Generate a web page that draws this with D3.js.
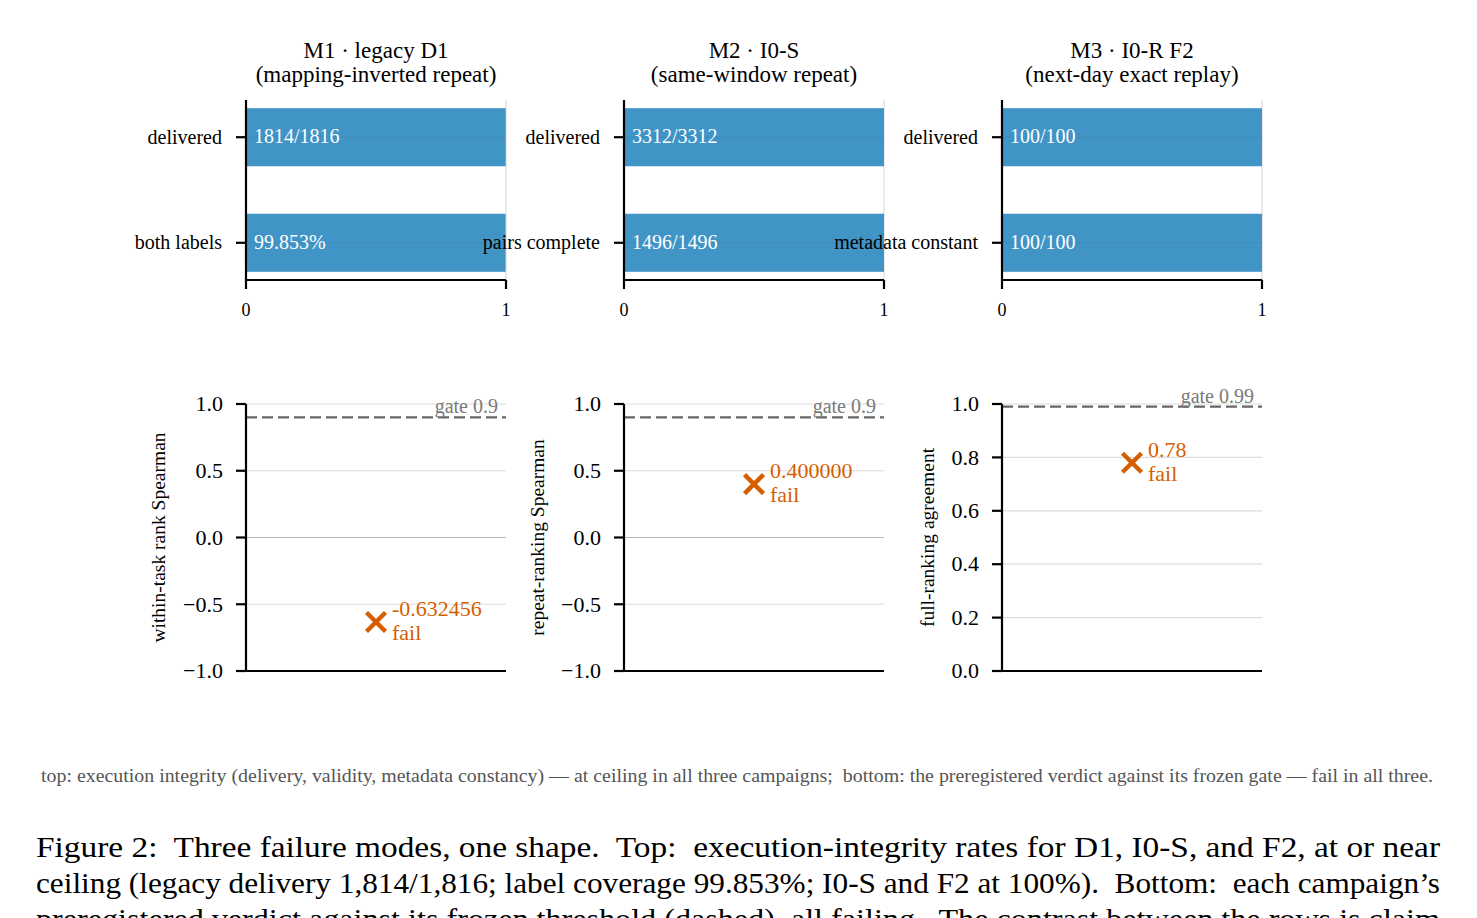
<!DOCTYPE html>
<html lang="en">
<head>
  <meta charset="utf-8">
  <title>Three failure modes</title>
  <style>
    body {
      margin:0;
      background-color:#fff;
    }
    svg {
      display:block;
      font-family:"Liberation Serif", "DejaVu Serif", serif;
    }
    .grid line {
      stroke:#dcdcdc;
      stroke-width:1.2;
    }
    .spine {
      stroke:#000;
      stroke-width:2.2;
    }
    .tick line {
      stroke:#000;
      stroke-width:2.2;
    }
  </style>
</head>
<body>
  <div id="page"></div>
  <script src="https://cdn.jsdelivr.net/npm/d3@7/dist/d3.min.js"></script>
  <script>
    var campaigns = ["M1 \u00b7 legacy D1", "M2 \u00b7 I0-S", "M3 \u00b7 I0-R F2"];
    var subtitles = ["(mapping-inverted repeat)", "(same-window repeat)", "(next-day exact replay)"];

    // top row: execution integrity
    var integrityCats = [["delivered", "both labels"], ["delivered", "pairs complete"], ["delivered", "metadata constant"]];
    var integrityVals = [[1814 / 1816, 0.99853], [1, 1], [1, 1]];
    var integrityText = [["1814/1816", "99.853%"], ["3312/3312", "1496/1496"], ["100/100", "100/100"]];
    var integrityTicks = [0, 1];

    // bottom row: verdict vs gate
    var verdictVals = [-0.632456, 0.4, 0.78];
    var verdictText = ["-0.632456", "0.400000", "0.78"];
    var gates = [0.9, 0.9, 0.99];
    var verdictDomains = [[-1, 1], [-1, 1], [0, 1]];
    var verdictTicks = [[-1, -0.5, 0, 0.5, 1], [-1, -0.5, 0, 0.5, 1], [0, 0.2, 0.4, 0.6, 0.8, 1]];
    var verdictYLabels = ["within-task rank Spearman", "repeat-ranking Spearman", "full-ranking agreement"];

    var footnote = "top: execution integrity (delivery, validity, metadata constancy) \u2014 at ceiling in all three campaigns;  bottom: the preregistered verdict against its frozen gate \u2014 fail in all three.";
    var caption = [
      "Figure 2:  Three failure modes, one shape.  Top:  execution-integrity rates for D1, I0-S, and F2, at or near",
      "ceiling (legacy delivery 1,814/1,816; label coverage 99.853%; I0-S and F2 at 100%).  Bottom:  each campaign\u2019s",
      "preregistered verdict against its frozen threshold (dashed), all failing.  The contrast between the rows is claim"
    ];

    var W = 1477, H = 918;
    var panelX = [246, 624, 1002];
    var pw = 260;
    var barColor = "#4195c6";
    var failColor = "#d55e00";
    var fmt = d3.format(".1f");
    var minus = function(v){ return fmt(v).replace("-", "\u2212"); };

    var svg = d3.select("div#page").append("svg")
        .attr("width", W)
        .attr("height", H);

    svg.append("rect").attr("width", W).attr("height", H).attr("fill", "#fff");

    // ---- top row
    var topY0 = 100, topY1 = 280;
    campaigns.forEach(function(name, p){
      var g = svg.append("g").attr("transform", "translate(" + panelX[p] + ",0)");

      g.append("text")
          .attr("x", pw / 2).attr("y", 58)
          .attr("text-anchor", "middle")
          .attr("font-size", 23)
          .text(name);
      g.append("text")
          .attr("x", pw / 2).attr("y", 82)
          .attr("text-anchor", "middle")
          .attr("font-size", 23)
          .text(subtitles[p]);

      var x = d3.scaleLinear().domain([0, 1]).range([0, pw]);
      // bars at 0 and 1, height 0.55, matplotlib-style 5% margins
      var y = d3.scaleLinear().domain([-0.3525, 1.3525]).range([topY0, topY1]);

      var rows = integrityCats[p].map(function(c, i){
        return {cat: c, pos: i, val: integrityVals[p][i], txt: integrityText[p][i]};
      });

      g.append("g").attr("class", "grid")
        .selectAll("line").data(integrityTicks).enter().append("line")
          .attr("x1", x).attr("x2", x)
          .attr("y1", topY0).attr("y2", topY1);

      g.selectAll("rect.bar").data(rows).enter().append("rect")
          .attr("class", "bar")
          .attr("x", x(0))
          .attr("y", function(d){ return y(d.pos - 0.275); })
          .attr("width", function(d){ return x(d.val) - x(0); })
          .attr("height", y(0.275) - y(-0.275))
          .attr("fill", barColor);

      // faint row grid through the bars
      g.selectAll("line.rowgrid").data(rows).enter().append("line")
          .attr("class", "rowgrid")
          .attr("x1", x(0)).attr("x2", x(1))
          .attr("y1", function(d){ return y(d.pos); })
          .attr("y2", function(d){ return y(d.pos); })
          .attr("stroke", "#000").attr("stroke-opacity", 0.05).attr("stroke-width", 1.2);

      g.selectAll("text.val").data(rows).enter().append("text")
          .attr("class", "val")
          .attr("x", x(0) + 8)
          .attr("y", function(d){ return y(d.pos) + 6; })
          .attr("fill", "#fff")
          .attr("font-size", 20)
          .text(function(d){ return d.txt; });

      // left axis with category labels
      g.append("line").attr("class", "spine")
          .attr("x1", 0).attr("x2", 0).attr("y1", topY0).attr("y2", topY1);
      var yl = g.selectAll("g.ycat").data(rows).enter().append("g")
          .attr("class", "tick ycat")
          .attr("transform", function(d){ return "translate(0," + y(d.pos) + ")"; });
      yl.append("line").attr("x1", -10).attr("x2", 0);
      yl.append("text")
          .attr("x", -24).attr("dy", "0.32em")
          .attr("text-anchor", "end")
          .attr("font-size", 20)
          .text(function(d){ return d.cat; });

      // bottom axis
      g.append("line").attr("class", "spine")
          .attr("x1", 0).attr("x2", pw).attr("y1", topY1).attr("y2", topY1);
      var xt = g.selectAll("g.xt").data(integrityTicks).enter().append("g")
          .attr("class", "tick xt")
          .attr("transform", function(d){ return "translate(" + x(d) + "," + topY1 + ")"; });
      xt.append("line").attr("y1", 0).attr("y2", 9);
      xt.append("text")
          .attr("y", 36)
          .attr("text-anchor", "middle")
          .attr("font-size", 18)
          .text(function(d){ return d; });
    });

    // ---- bottom row
    var botY0 = 404, botY1 = 671;
    var ylabX = [-81, -80, -68];
    campaigns.forEach(function(name, p){
      var g = svg.append("g").attr("transform", "translate(" + panelX[p] + ",0)");
      var x = d3.scaleLinear().domain([-1, 1]).range([0, pw]);
      var y = d3.scaleLinear().domain(verdictDomains[p]).range([botY1, botY0]);
      var ticks = verdictTicks[p];

      g.append("g").attr("class", "grid")
        .selectAll("line").data(ticks).enter().append("line")
          .attr("x1", 0).attr("x2", pw)
          .attr("y1", y).attr("y2", y)
          .style("stroke", function(d){ return d === 0 ? "#b8b8b8" : null; });

      // gate
      g.append("line")
          .attr("x1", 0).attr("x2", pw)
          .attr("y1", y(gates[p])).attr("y2", y(gates[p]))
          .attr("stroke", "#666").attr("stroke-width", 2.4)
          .attr("stroke-dasharray", "11,5");
      g.append("text")
          .attr("x", pw - 8).attr("y", y(gates[p]) - 4)
          .attr("text-anchor", "end")
          .attr("fill", "#7a7a7a")
          .attr("font-size", 20)
          .text("gate " + gates[p]);

      // verdict marker
      var cx = x(0), cy = y(verdictVals[p]), r = 9.5;
      var m = g.append("g").attr("transform", "translate(" + cx + "," + cy + ")")
          .attr("stroke", failColor).attr("stroke-width", 4.4);
      m.append("line").attr("x1", -r).attr("y1", -r).attr("x2", r).attr("y2", r);
      m.append("line").attr("x1", -r).attr("y1", r).attr("x2", r).attr("y2", -r);

      g.append("text")
          .attr("x", cx + 16).attr("y", cy - 6)
          .attr("fill", failColor).attr("font-size", 22)
          .text(verdictText[p]);
      g.append("text")
          .attr("x", cx + 16).attr("y", cy + 18)
          .attr("fill", failColor).attr("font-size", 22)
          .text("fail");

      // axes
      g.append("line").attr("class", "spine")
          .attr("x1", 0).attr("x2", 0).attr("y1", botY0).attr("y2", botY1);
      g.append("line").attr("class", "spine")
          .attr("x1", 0).attr("x2", pw).attr("y1", botY1).attr("y2", botY1);
      var yt = g.selectAll("g.yt").data(ticks).enter().append("g")
          .attr("class", "tick yt")
          .attr("transform", function(d){ return "translate(0," + y(d) + ")"; });
      yt.append("line").attr("x1", -10).attr("x2", 0);
      yt.append("text")
          .attr("x", -23).attr("dy", "0.33em")
          .attr("text-anchor", "end")
          .attr("font-size", 22)
          .text(minus);

      g.append("text")
          .attr("transform", "translate(" + ylabX[p] + "," + ((botY0 + botY1) / 2) + ") rotate(-90)")
          .attr("text-anchor", "middle")
          .attr("font-size", 19.5)
          .text(verdictYLabels[p]);
    });

    // ---- footnote + caption
    svg.append("text")
        .attr("x", 41).attr("y", 782)
        .attr("fill", "#555")
        .attr("font-size", 18)
        .attr("textLength", 1392)
        .attr("lengthAdjust", "spacingAndGlyphs")
        .style("white-space", "pre")
        .text(footnote);

    svg.selectAll("text.cap").data(caption).enter().append("text")
        .attr("class", "cap")
        .attr("x", 36)
        .attr("y", function(d, i){ return 857 + i * 36; })
        .attr("font-size", 30)
        .attr("textLength", 1404)
        .attr("lengthAdjust", "spacingAndGlyphs")
        .style("white-space", "pre")
        .text(function(d){ return d; });
  </script>
</body>
</html>
